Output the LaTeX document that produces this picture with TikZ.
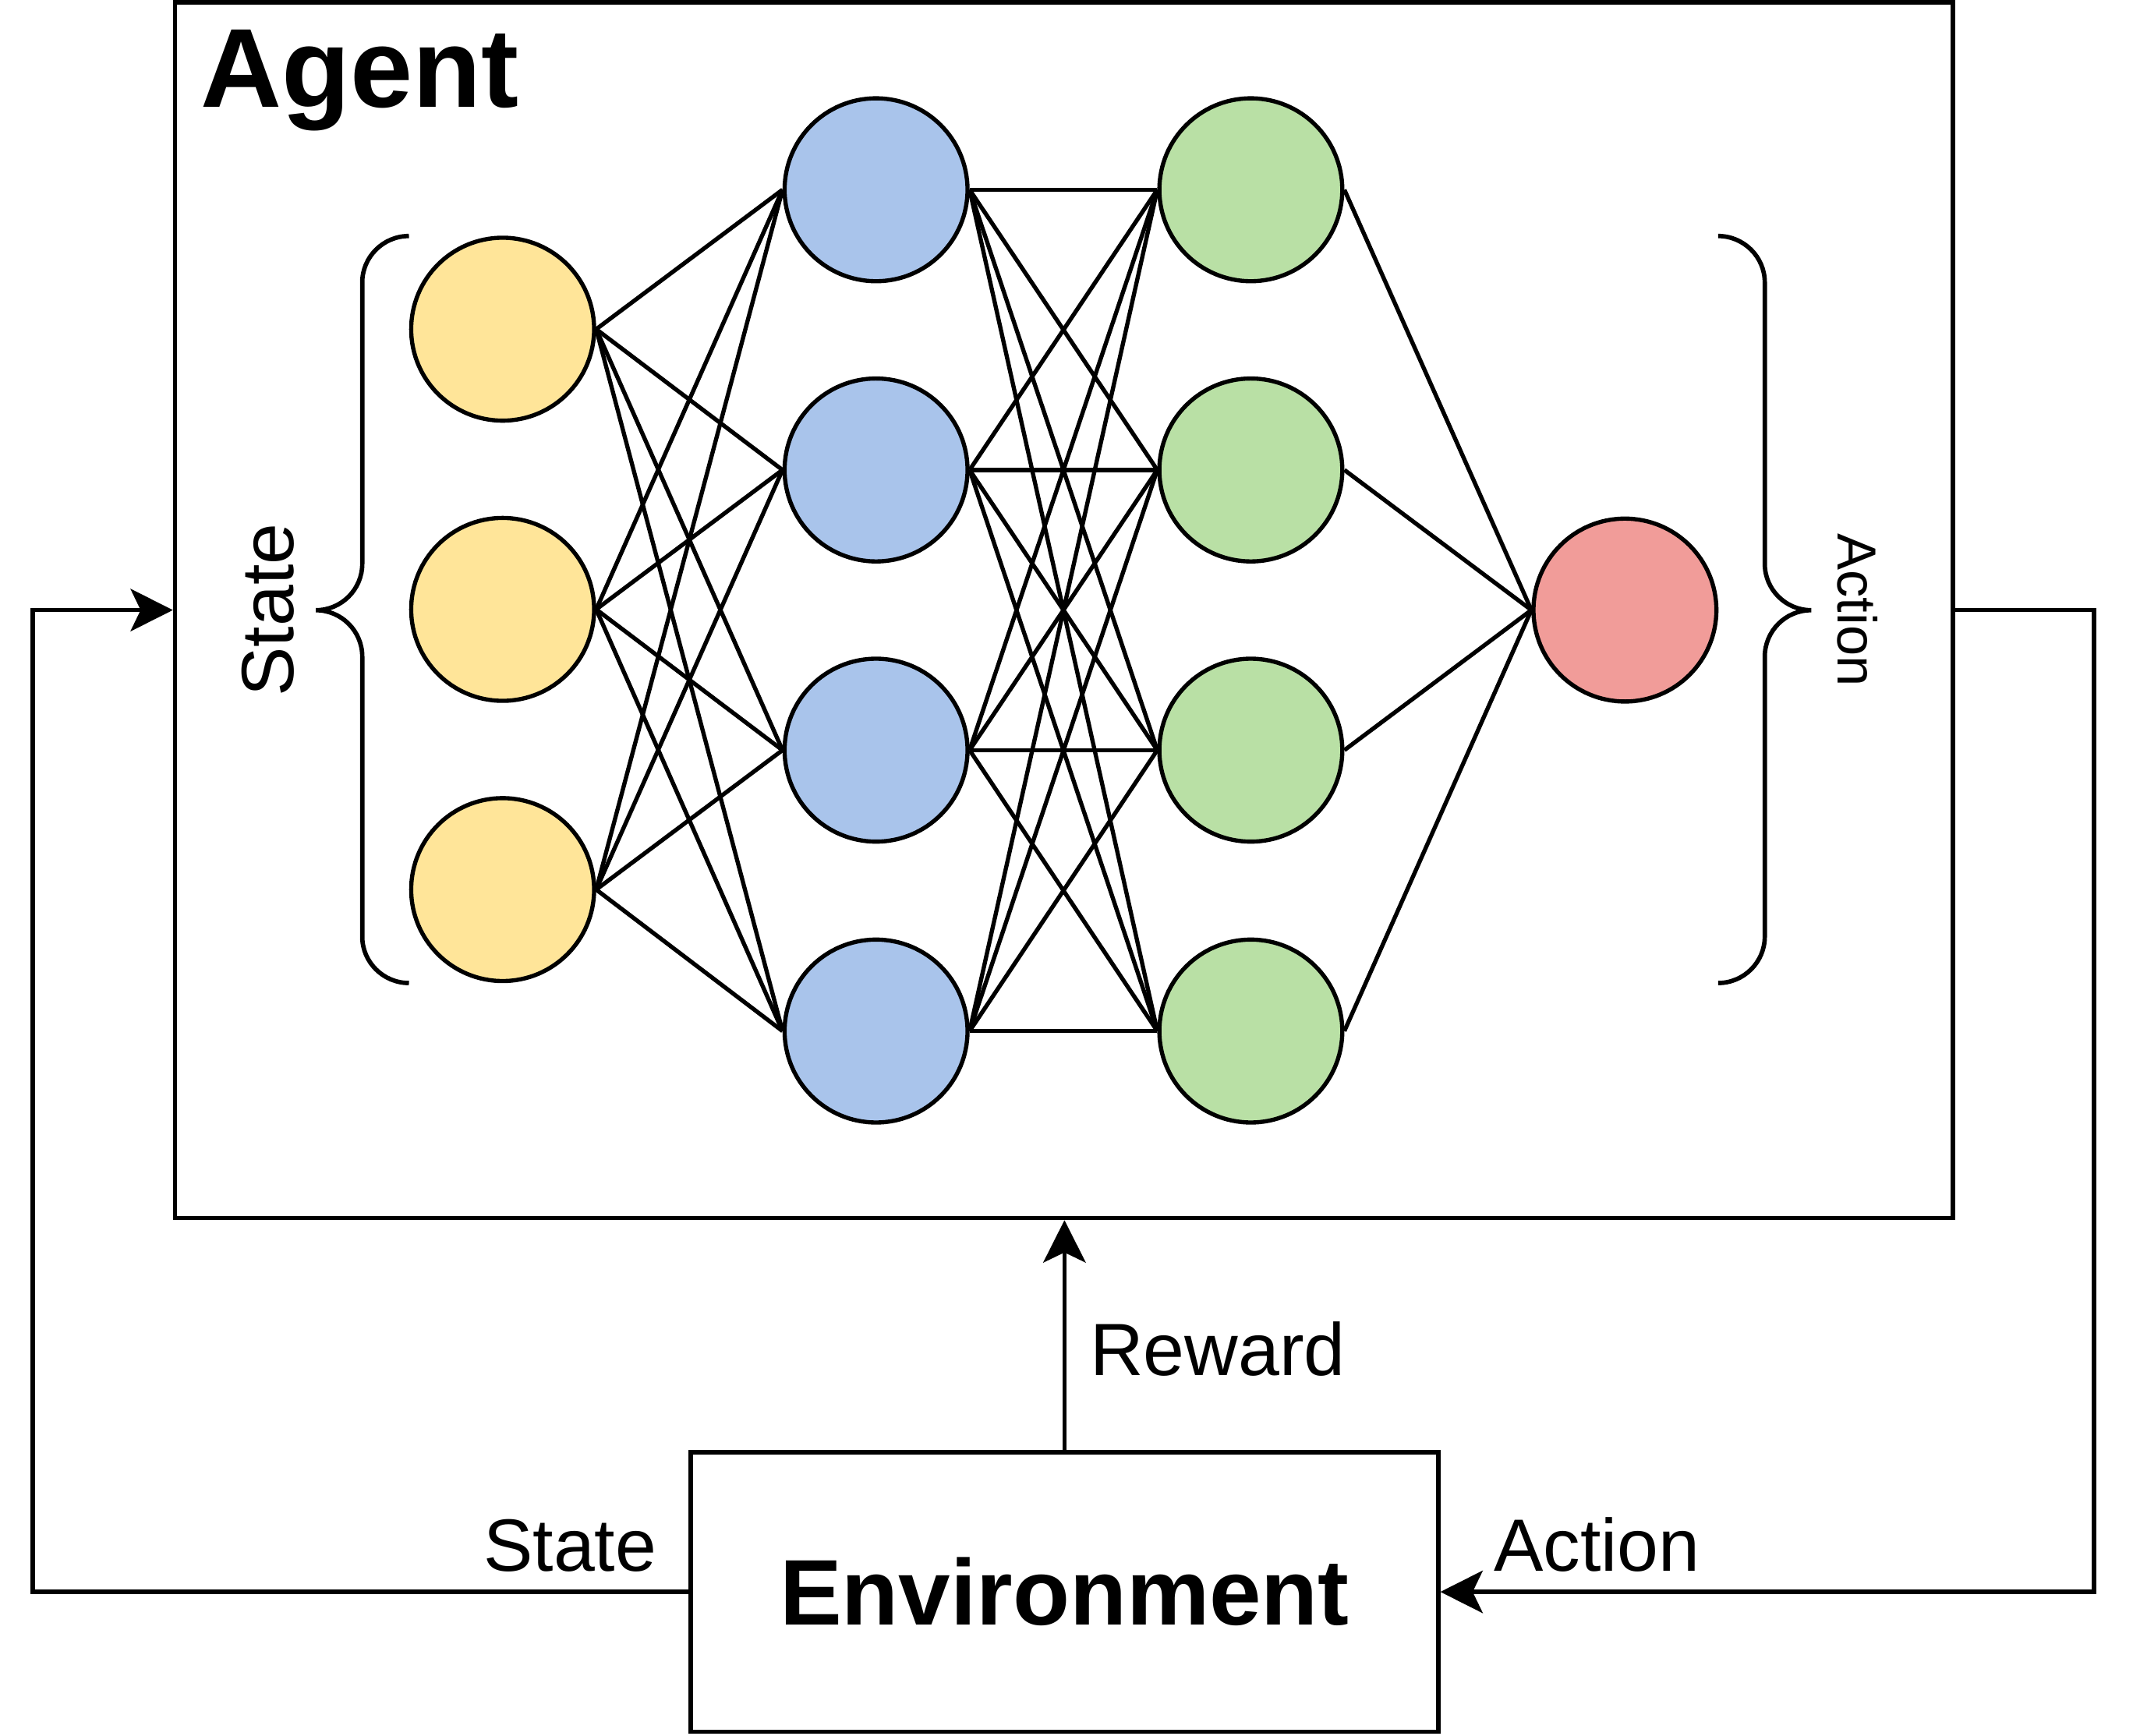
\documentclass[tikz,border=0pt]{standalone}
\usepackage{fontspec}
\setmainfont{Liberation Sans}
\usepackage{xcolor}
\usepackage{tikz}
\usetikzlibrary{arrows.meta}
\definecolor{stfill}{HTML}{FFE599}
\definecolor{hafill}{HTML}{A9C4EB}
\definecolor{hbfill}{HTML}{B9E0A5}
\definecolor{acfill}{HTML}{F19C99}

\begin{document}
\begin{tikzpicture}[x=0.02cm, y=-0.02cm,
  neuron/.style={circle, draw, line width=1.75pt, minimum size=2.69cm, inner sep=0pt},
  inp/.style={neuron, fill=stfill},
  hida/.style={neuron, fill=hafill},
  hidb/.style={neuron, fill=hbfill},
  outp/.style={neuron, fill=acfill},
  wire/.style={line width=1.75pt},
  box/.style={draw, line width=1.85pt, inner sep=0pt},
  arr/.style={-{Stealth[length=17.7pt, width=17.7pt, inset=4.2pt]}, line width=1.85pt},
  brace/.style={line width=1.85pt},
  lbl/.style={font=\fontsize{31}{37}\selectfont, inner sep=0pt},
  hd/.style={font=\bfseries\fontsize{47}{56}\selectfont, inner sep=0pt},
]
\useasboundingbox (0,0) rectangle (1568,1276);

% --- boxes ---
\node[box, minimum width=26.14cm, minimum height=17.88cm] (agent) at (782.1,448.5) {};
\node[hd, anchor=base west] (agtitle) at (147,79) {Agent};
\node[box, minimum width=10.99cm, minimum height=4.11cm,
      font=\bfseries\fontsize{39}{47}\selectfont] (env) at (782.5,1170.3) {Environment};

% --- network ---
\node[inp] (in1) at (369.5,242) {};
\node[inp] (in2) at (369.5,448) {};
\node[inp] (in3) at (369.5,654) {};
\node[hida] (ha1) at (644,139.5) {};
\node[hida] (ha2) at (644,345.5) {};
\node[hida] (ha3) at (644,551.5) {};
\node[hida] (ha4) at (644,758) {};
\node[hidb] (hb1) at (919.5,139.5) {};
\node[hidb] (hb2) at (919.5,345.5) {};
\node[hidb] (hb3) at (919.5,551.5) {};
\node[hidb] (hb4) at (919.5,758) {};
\node[outp] (out) at (1194.5,448.5) {};
\foreach \i in {1,2,3} \foreach \j in {1,...,4} \draw[wire] (in\i.east) -- (ha\j.west);
\foreach \i in {1,...,4} \foreach \j in {1,...,4} \draw[wire] (ha\i.east) -- (hb\j.west);
\foreach \i in {1,...,4} \draw[wire] (hb\i.east) -- (out.west);

% --- braces ---
\draw[brace] (300.6,173.5) .. controls (281.8,173.5) and (266.3,188.8) .. (266.3,207.6)
  -- (266.3,414.5) .. controls (266.3,433.3) and (251,448.6) .. (232.2,448.6)
  .. controls (251,448.6) and (266.3,463.9) .. (266.3,482.7)
  -- (266.3,688.6) .. controls (266.3,707.4) and (281.8,722.7) .. (300.6,722.7);
\draw[brace] (1263,173.5) .. controls (1281.8,173.5) and (1297.3,188.8) .. (1297.3,207.6)
  -- (1297.3,414.5) .. controls (1297.3,433.3) and (1312.6,448.6) .. (1331.4,448.6)
  .. controls (1312.6,448.6) and (1297.3,463.9) .. (1297.3,482.7)
  -- (1297.3,688.6) .. controls (1297.3,707.4) and (1281.8,722.7) .. (1263,722.7);
\node[lbl, rotate=90] (stbrace) at (197,448.5) {State};
\node[lbl, font=\fontsize{23}{28}\selectfont, rotate=-90] (acbrace) at (1365.5,448.5) {Action};

% --- loop ---
\draw[arr] (env.north) -- (env.north |- agent.south);
\draw[arr] (env.west) -- ++(-482.2,0) |- (agent.west);
\draw[arr] (agent.east) -- ++(102.4,0) |- (env.east);
\node[lbl, anchor=base west] (rwd) at (801,1011) {Reward};
\node[lbl, anchor=base east] (stlbl) at (483,1155) {State};
\node[lbl, anchor=base west] (aclbl) at (1098,1155) {Action};
\end{tikzpicture}
\end{document}
